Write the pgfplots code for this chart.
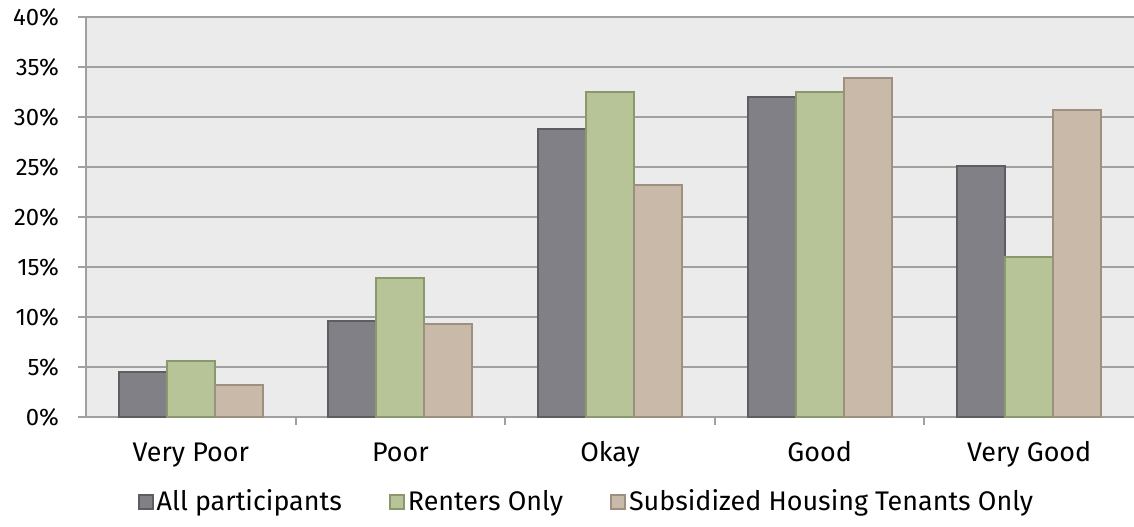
\documentclass[border=0pt]{standalone}
\usepackage{pgfplots}
\pgfplotsset{compat=1.18}
\usepackage{fontspec}
\setmainfont{Fira Sans}

\definecolor{allfill}{RGB}{129,128,134}
\definecolor{allline}{RGB}{94,94,98}
\definecolor{rentfill}{RGB}{182,196,152}
\definecolor{rentline}{RGB}{138,152,110}
\definecolor{subfill}{RGB}{201,185,168}
\definecolor{subline}{RGB}{158,144,128}
\definecolor{bggray}{RGB}{235,235,235}
\definecolor{gridgray}{RGB}{160,160,160}

% categories: 0 Very Poor, 1 Poor, 2 Okay, 3 Good, 4 Very Good
\pgfplotstableread{
x all rent sub
0 4.5 5.6 3.2
1 9.6 13.9 9.3
2 28.8 32.5 23.2
3 32.0 32.5 33.9
4 25.1 16.0 30.7
}\ratings

\begin{document}
\begin{tikzpicture}
\useasboundingbox (-43bp,-55bp) rectangle (524bp,208.5bp);
\begin{axis}[
  scale only axis,
  width=524bp, height=200bp,
  ybar=0pt, bar width=24bp,
  xmin=-0.5, xmax=4.5,
  ymin=0, ymax=40,
  xtick={0,...,4},
  xticklabels={Very Poor, Poor, Okay, Good, Very Good},
  major x tick style={draw=none},
  minor xtick={0.5,1.5,2.5,3.5},
  minor x tick style={draw=gridgray, line width=1bp},
  minor tick length=4bp,
  ytick={0,5,...,40},
  yticklabel={\pgfmathprintnumber{\tick}\%},
  /pgf/number format/assume math mode=true,
  tick align=outside,
  major tick length=4bp,
  major y tick style={draw=gridgray, line width=1bp},
  ymajorgrids,
  grid style={draw=gridgray, line width=1bp},
  axis x line*=bottom, axis y line*=left,
  axis line style={draw=gridgray, line width=1bp, -},
  axis background/.style={fill=bggray},
  tick label style={text=black},
  yticklabel style={font=\fontsize{12}{14}\selectfont, xshift=-6bp},
  xticklabel style={font=\fontsize{13.5}{15}\selectfont, anchor=base, yshift=-18bp},
  legend style={at={(0.478,-0.2125)}, anchor=center, draw=none, fill=none,
    legend columns=-1, font=\fontsize{13.5}{15}\selectfont,
    nodes={inner xsep=1.5bp},
    /tikz/every even column/.append style={column sep=22bp}},
  legend image code/.code={\draw[#1, line width=1bp] (0bp,-3.5bp) rectangle (7bp,3.5bp);},
]
\addplot[fill=allfill, draw=allline, line width=1bp] table[x=x, y=all] {\ratings};
\addlegendentry{All participants}
\addplot[fill=rentfill, draw=rentline, line width=1bp] table[x=x, y=rent] {\ratings};
\addlegendentry{Renters Only}
\addplot[fill=subfill, draw=subline, line width=1bp] table[x=x, y=sub] {\ratings};
\addlegendentry{Subsidized Housing Tenants Only}
\end{axis}
\end{tikzpicture}
\end{document}
